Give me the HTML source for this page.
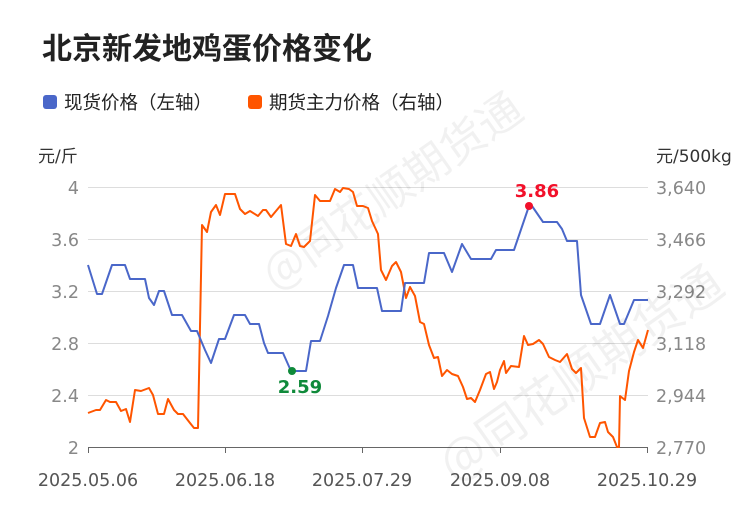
<!DOCTYPE html><html><head><meta charset="utf-8"><style>
body{margin:0;background:#fff;width:750px;height:510px;overflow:hidden}
</style></head><body>
<svg width="750" height="510" xmlns="http://www.w3.org/2000/svg" font-family="DejaVu Sans, Noto Sans CJK SC, sans-serif">
<text x="42" y="59" font-size="30" font-weight="bold" fill="#222" font-family="Noto Sans CJK SC, sans-serif">北京新发地鸡蛋价格变化</text>
<rect x="43" y="95" width="14" height="14" rx="3" fill="#4a67c9"/>
<text x="64" y="109" font-size="18.5" fill="#222" font-family="Noto Sans CJK SC, sans-serif">现货价格（左轴）</text>
<rect x="248" y="95" width="14" height="14" rx="3" fill="#ff5500"/>
<text x="269" y="109" font-size="18.5" fill="#222" font-family="Noto Sans CJK SC, sans-serif">期货主力价格（右轴）</text>
<text x="38" y="162" font-size="17" fill="#333">元/斤</text>
<text x="656" y="162" font-size="17" fill="#333">元/500kg</text>
<g stroke="#ddd" stroke-width="1">
<line x1="88" x2="648" y1="187.5" y2="187.5"/><line x1="88" x2="648" y1="239.5" y2="239.5"/><line x1="88" x2="648" y1="291.5" y2="291.5"/><line x1="88" x2="648" y1="343.5" y2="343.5"/><line x1="88" x2="648" y1="395.5" y2="395.5"/></g>
<line x1="88" x2="648" y1="447.5" y2="447.5" stroke="#666"/>
<g stroke="#666"><line x1="88.5" x2="88.5" y1="447" y2="453"/><line x1="225.5" x2="225.5" y1="447" y2="453"/><line x1="362.5" x2="362.5" y1="447" y2="453"/><line x1="500.5" x2="500.5" y1="447" y2="453"/><line x1="647.5" x2="647.5" y1="447" y2="453"/></g>
<g font-size="17.5" fill="#888" text-anchor="end">
<text x="79" y="194">4</text><text x="79" y="246">3.6</text><text x="79" y="298">3.2</text><text x="79" y="350">2.8</text><text x="79" y="402">2.4</text><text x="79" y="454">2</text></g>
<g font-size="17.5" fill="#888">
<text x="656" y="194">3,640</text><text x="656" y="246">3,466</text><text x="656" y="298">3,292</text><text x="656" y="350">3,118</text><text x="656" y="402">2,944</text><text x="656" y="454">2,770</text></g>
<g font-size="17.5" fill="#555" text-anchor="middle">
<text x="88" y="486">2025.05.06</text><text x="225" y="486">2025.06.18</text><text x="362" y="486">2025.07.29</text><text x="500" y="486">2025.09.08</text><text x="647" y="486">2025.10.29</text></g>
<g font-size="44" fill="#000" opacity="0.05" transform="rotate(-35 360 220)" font-family="Noto Sans CJK SC, sans-serif"><text x="250" y="230">@同花顺期货通</text></g>
<g font-size="48" fill="#000" opacity="0.05" transform="rotate(-35 560 390)" font-family="Noto Sans CJK SC, sans-serif"><text x="420" y="405">@同花顺期货通</text></g>
<polyline fill="none" stroke="#ff5500" stroke-width="2" stroke-linejoin="round" points="88,413 96,410 100,410 106,400 110,402 116,402 121,411 126,409 130,422 135,390 141,391 149,388 153,395 158,414 164,414 168,399 174,410 178,414 183,414 190,423 194,428 198,428 202,225 207,232 211,212 216,205 220,215 225,194 235,194 240,209 245,214 250,211 258,216 263,210 266,210 271,217 281,205 286,244 291,246 296,234 300,246 304,247 310,241 315,195 320,201 330,201 335,189 340,192 343,188 349,189 353,192 357,206 363,206 368,208 372,221 378,234 381,270 386,280 392,266 396,262 401,272 406,298 410,287 415,296 420,322 424,324 429,345 434,358 438,357 442,376 447,370 452,374 458,376 463,387 467,399 471,398 475,402 480,390 486,374 490,372 494,389 497,382 500,370 504,361 506,373 511,366 519,367 524,336 528,345 533,344 539,340 543,344 549,357 555,360 560,362 567,354 572,369 576,373 581,368 584,418 590,437 595,437 600,423 605,422 608,432 613,437 617,447 619,447 620,396 625,400 629,371 634,352 638,340 643,348 648,330"/>
<polyline fill="none" stroke="#4a67c9" stroke-width="2" stroke-linejoin="round" points="88,265 97,294 102,294 112,265 125,265 130,279 145,279 149,298 154,305 159,291 164,291 172,315 182,315 191,331 197,331 205,350 211,363 219,339 225,339 234,315 245,315 250,324 259,324 264,343 268,353 283,353 291,371 306,371 311,341 320,341 328,316 336,288 344,265 353,265 358,288 377,288 382,311 401,311 405,283 424,283 429,253 444,253 452,272 462,244 471,259 491,259 496,250 514,250 529,206 532,206 543,222 557,222 562,229 567,241 577,241 581,295 591,324 600,324 610,295 620,324 624,324 634,300 648,300"/>
<circle cx="292" cy="371" r="4" fill="#0f8a3a"/>
<text x="300" y="393" font-size="18" font-weight="bold" fill="#0f8a3a" text-anchor="middle">2.59</text>
<circle cx="529" cy="206" r="4" fill="#f2102a"/>
<text x="537" y="197" font-size="18" font-weight="bold" fill="#f2102a" text-anchor="middle">3.86</text>
</svg>
</body></html>
